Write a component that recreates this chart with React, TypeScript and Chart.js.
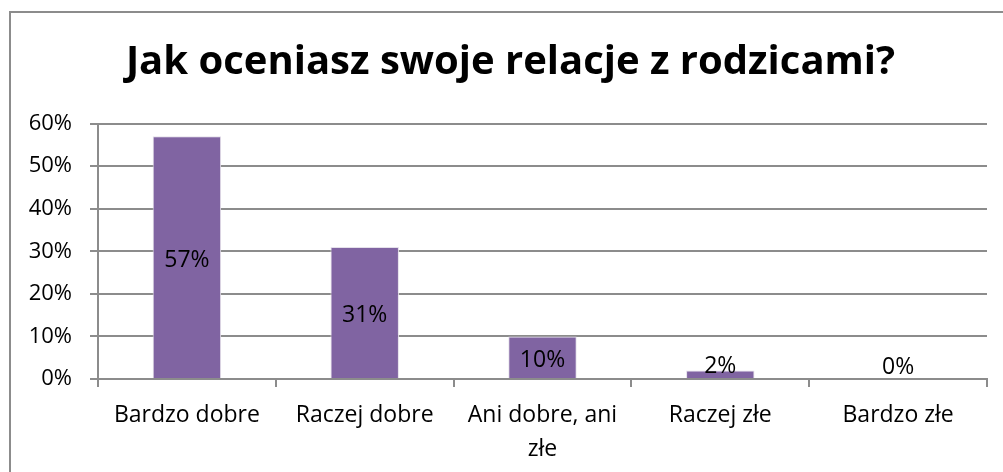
import React, { useEffect, useRef } from "react";
import { Chart, registerables } from "chart.js";

Chart.register(...registerables);

const TITLE = "Jak oceniasz swoje relacje z rodzicami?";
const CATEGORIES: (string | string[])[] = [
  "Bardzo dobre",
  "Raczej dobre",
  ["Ani dobre, ani", "złe"],
  "Raczej złe",
  "Bardzo złe",
];
const VALUES = [57, 31, 10, 2, 0];
const Y_MAX = 60;
const Y_STEP = 10;

const FONT = "'Open Sans', sans-serif";
const GRAY = "#8c8c8c";

const frame = {
  id: "frame",
  afterLayout(chart: any) {
    const t = chart.titleBlock;
    if (t) {
      t.left = 18;
      t.right = chart.width;
    }
  },
  beforeDraw(chart: any) {
    const ctx = chart.ctx;
    ctx.save();
    ctx.fillStyle = "#ffffff";
    ctx.fillRect(0, 0, chart.width, chart.height);
    ctx.strokeStyle = GRAY;
    ctx.lineWidth = 2;
    ctx.strokeRect(10, 12, chart.width + 20, chart.height + 20);
    ctx.restore();
  },
};

const labels = {
  id: "barLabels",
  afterDatasetsDraw(chart: any) {
    const ctx = chart.ctx;
    const meta = chart.getDatasetMeta(0);
    const data = chart.data.datasets[0].data as number[];
    ctx.save();
    ctx.font = `23px ${FONT}`;
    ctx.fillStyle = "#000000";
    ctx.textAlign = "center";
    ctx.textBaseline = "alphabetic";
    meta.data.forEach((bar: any, i: number) => {
      const center = (bar.y + bar.base) / 2;
      const y = Math.min(center + 10, bar.base - 5);
      ctx.fillText(`${data[i]}%`, bar.x, y);
    });
    ctx.restore();
  },
};

export default function App() {
  const ref = useRef<HTMLCanvasElement | null>(null);
  useEffect(() => {
    const canvas = ref.current;
    if (!canvas) return;
    const chart = new Chart(canvas, {
      type: "bar",
      data: {
        labels: CATEGORIES,
        datasets: [
          {
            data: VALUES,
            backgroundColor: "#8064A2",
            borderColor: "#e4e0ea",
            borderWidth: 1,
            barPercentage: 0.385,
            categoryPercentage: 1,
          },
        ],
      },
      options: {
        responsive: false,
        animation: false,
        layout: { padding: { left: 0, right: 16, top: 0, bottom: 0 } },
        plugins: {
          legend: { display: false },
          tooltip: { enabled: false },
          title: {
            display: true,
            text: TITLE,
            color: "#000000",
            font: { family: FONT, size: 40, weight: "bold", lineHeight: 1.2 },
            padding: { top: 39, bottom: 36.5 },
          },
        },
        scales: {
          x: {
            grid: {
              display: true,
              drawOnChartArea: false,
              drawTicks: true,
              tickLength: 8,
              color: GRAY,
              lineWidth: 2,
            },
            border: { display: true, color: GRAY, width: 2 },
            ticks: {
              color: "#000000",
              font: { family: FONT, size: 23, lineHeight: 1.45 },
              padding: 12,
              maxRotation: 0,
              autoSkip: false,
            },
            afterFit(scale: any) {
              scale.height = 93;
            },
          },
          y: {
            min: 0,
            max: Y_MAX,
            grid: {
              color: GRAY,
              lineWidth: 2,
              drawTicks: true,
              tickLength: 8,
            },
            border: { display: true, color: GRAY, width: 2 },
            ticks: {
              stepSize: Y_STEP,
              color: "#000000",
              font: { family: FONT, size: 22 },
              padding: 18,
              callback: (v: any) => `${v}%`,
            },
            afterFit(scale: any) {
              scale.width = 98;
            },
          },
        },
      },
      plugins: [frame, labels],
    });
    return () => chart.destroy();
  }, []);
  return (
    <div style={{ position: "absolute", left: 0, top: 0, width: 1003, height: 472 }}>
      <canvas ref={ref} width={1003} height={472} />
    </div>
  );
}
